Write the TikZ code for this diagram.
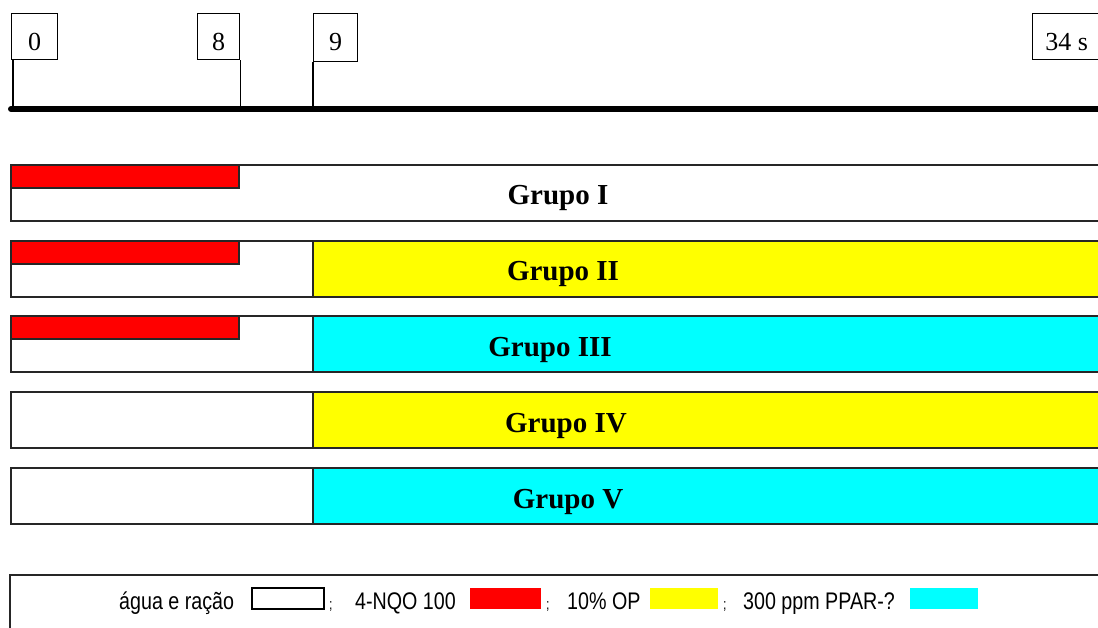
\documentclass[tikz,border=0pt]{standalone}
\usepackage{fontspec}
\setmainfont{Liberation Serif}
\newfontfamily\legendfont[FakeStretch=0.82]{Liberation Sans}
\definecolor{opYellow}{RGB}{255,255,0}
\definecolor{pparCyan}{RGB}{0,255,255}
\definecolor{nqoRed}{RGB}{255,0,0}

\begin{document}
\begin{tikzpicture}[x=1pt,y=-1pt,
    timebox/.style={draw, line width=1.4pt, inner sep=0pt, anchor=north west,
      minimum width=46pt, text height=37pt, text depth=9pt,
      font=\fontsize{26}{26}\selectfont},
    bar/.style={draw=black!85, line width=1.4pt},
    grupo/.style={anchor=base, font=\fontsize{29}{29}\selectfont\bfseries},
    legtext/.style={anchor=base west, inner sep=0pt, font=\legendfont\fontsize{24}{24}\selectfont},
    semi/.style={anchor=base west, inner sep=0pt, font=\legendfont\fontsize{15}{15}\selectfont}]
    \useasboundingbox (0,0) rectangle (1098,628);
    \clip (0,0) rectangle (1098,628);

    % time line
    \node[timebox] (t0) at (11,13) {0};
    \node[timebox, minimum width=42pt] (t8) at (197,13) {8};
    \node[timebox, minimum width=44pt, text depth=11pt] (t9) at (313,13) {9};
    \node[timebox, minimum width=68pt] (t34) at (1032,13) {34 s};
    \coordinate (axL) at (11,109);
    \coordinate (axR) at (1110,109);
    \draw[line width=6pt, line cap=round] (axL) -- (axR);
    \draw[line width=1.4pt] ([xshift=2pt]t0.south west) -- ([xshift=2pt]t0.south west |- axL);
    \draw[line width=1.4pt] (t8.south east) -- (t8.south east |- axL);
    \draw[line width=1.4pt] (t9.south west) -- (t9.south west |- axL);

    % groups
    \foreach \ry/\fillc/\hasred/\lab/\lx [count=\i] in
      {165/white/1/I/558, 241/opYellow/1/II/563, 316/pparCyan/1/III/550,
       392/opYellow/0/IV/566, 468/pparCyan/0/V/568} {
      \draw[bar] (11,\ry) rectangle (1110,\ry+56);
      \ifnum\i>1 \draw[bar, fill=\fillc] (313,\ry) rectangle (1110,\ry+56); \fi
      \ifnum\hasred=1 \draw[bar, fill=nqoRed] (11,\ry) rectangle (239,\ry+23); \fi
      \node[grupo] (g\i) at (\lx,\ry+40) {Grupo \lab};
    }

    % legend
    \draw[bar] (10,575) rectangle (1110,640);
    \node[legtext] (lAgua) at (119,609) {água e ração};
    \draw[line width=1.2pt] (252,588) rectangle (324,609);
    \node[semi] (s1) at (329,609) {;};
    \node[legtext] (lNqo) at (355,609) {4-NQO 100};
    \fill[nqoRed] (470,588) rectangle (541,609);
    \node[semi] (s2) at (546,609) {;};
    \node[legtext] (lOp) at (567,609) {10\% OP};
    \fill[opYellow] (650,588) rectangle (718,609);
    \node[semi] (s3) at (723,609) {;};
    \node[legtext] (lPpar) at (743,609) {300 ppm PPAR-?};
    \fill[pparCyan] (910,588) rectangle (978,609);
\end{tikzpicture}
\end{document}
